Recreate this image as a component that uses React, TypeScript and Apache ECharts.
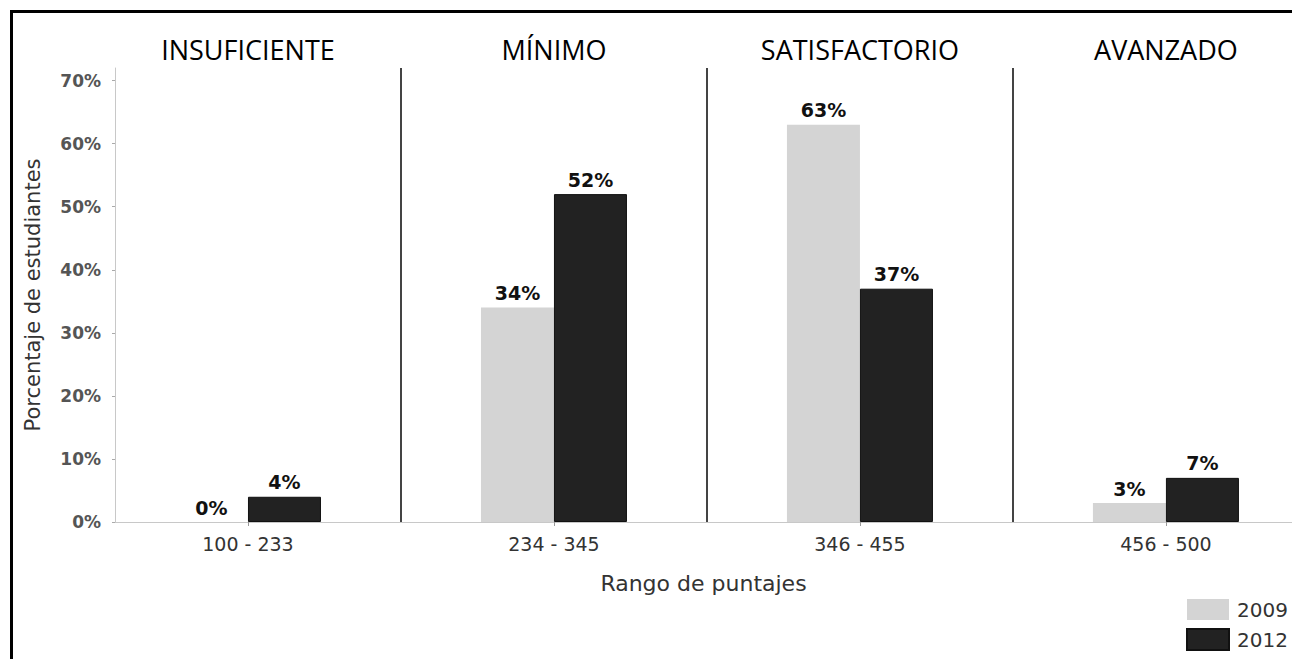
import React, { useEffect, useRef } from "react";
import * as echarts from "echarts";

const ranges = ["100 - 233", "234 - 345", "346 - 455", "456 - 500"];
const levels = ["INSUFICIENTE", "MÍNIMO", "SATISFACTORIO", "AVANZADO"];
const values2009 = [0, 34, 63, 3];
const values2012 = [4, 52, 37, 7];
const yTicks = [0, 10, 20, 30, 40, 50, 60, 70];
const seriesNames = ["2009", "2012"];

export default function App() {
  const ref = useRef<HTMLDivElement>(null);
  useEffect(() => {
    if (!ref.current) return;
    const chart = echarts.init(ref.current, null, { renderer: "svg" });
    const idx = ranges.map((_, i) => i);
    const separators = ranges.slice(1).map((_, i) => ({ xAxis: i + 0.5 }));
    const labelStyle = {
      show: true,
      position: "top",
      distance: 5,
      formatter: (p: any) => `${p.value[1]}%`,
      fontFamily: "DejaVu Sans",
      fontWeight: "bold",
      fontSize: 19,
      color: "#111",
    };
    const xMin = -0.4346;
    const xMax = 3.412;
    chart.setOption({
      animation: false,
      backgroundColor: "#fff",
      grid: { left: 115, right: 0, top: 68, bottom: 137, containLabel: false },
      legend: {
        orient: "vertical",
        left: 1186,
        top: 599,
        padding: 0,
        itemWidth: 42,
        itemHeight: 21,
        itemGap: 8,
        icon: "rect",
        textStyle: { fontFamily: "DejaVu Sans", fontSize: 20, color: "#333", padding: [0, 0, 0, 3] },
        data: seriesNames,
      },
      xAxis: [
        {
          type: "value",
          min: xMin,
          max: xMax,
          position: "bottom",
          splitLine: { show: false },
          axisLine: { show: true, onZero: false, lineStyle: { color: "#c8c8c8", width: 1 } },
          axisTick: { show: true, customValues: idx, length: 4, lineStyle: { color: "#999" } },
          axisLabel: {
            customValues: idx,
            formatter: (v: number) => ranges[Math.round(v)] ?? "",
            fontFamily: "DejaVu Sans",
            fontSize: 19,
            color: "#333",
            margin: 12,
          },
          name: "Rango de puntajes",
          nameLocation: "middle",
          nameGap: 50,
          nameTextStyle: { fontFamily: "DejaVu Sans", fontSize: 22, color: "#333" },
        },
        {
          type: "value",
          min: xMin,
          max: xMax,
          position: "top",
          splitLine: { show: false },
          axisLine: { show: false },
          axisTick: { show: false },
          axisLabel: {
            customValues: idx,
            formatter: (v: number) => levels[Math.round(v)] ?? "",
            fontFamily: "Open Sans",
            fontWeight: 500,
            fontSize: 27,
            color: "#000",
            margin: 5,
          },
        },
      ],
      yAxis: {
        type: "value",
        min: 0,
        max: 72,
        splitLine: { show: false },
        axisLine: { show: true, onZero: false, lineStyle: { color: "#c8c8c8", width: 1 } },
        axisTick: { show: true, customValues: yTicks, length: 3, lineStyle: { color: "#aaa" } },
        axisLabel: {
          customValues: yTicks,
          formatter: (v: number) => `${v}%`,
          fontFamily: "DejaVu Sans",
          fontWeight: "bold",
          fontSize: 17,
          color: "#555",
          margin: 14,
        },
        name: "Porcentaje de estudiantes",
        nameLocation: "middle",
        nameGap: 72,
        nameTextStyle: { fontFamily: "DejaVu Sans", fontSize: 21, color: "#333" },
      },
      graphic: [
        {
          type: "rect",
          shape: { x: 11.5, y: 11.5, width: 1400, height: 1000 },
          style: { fill: "none", stroke: "#000", lineWidth: 3 },
          silent: true,
          z: 100,
        },
      ],
      series: [
        {
          name: seriesNames[0],
          type: "bar",
          xAxisIndex: 0,
          barWidth: 73,
          barGap: "0%",
          itemStyle: { color: "#d4d4d4" },
          label: labelStyle,
          data: values2009.map((v, i) => [i, v]),
        },
        {
          name: seriesNames[1],
          type: "bar",
          xAxisIndex: 0,
          barWidth: 73,
          barGap: "0%",
          itemStyle: { color: "#222", borderColor: "#111", borderWidth: 1 },
          label: labelStyle,
          data: values2012.map((v, i) => [i, v]),
        },
        {
          name: "separators",
          type: "line",
          xAxisIndex: 0,
          data: [],
          markLine: {
            silent: true,
            symbol: "none",
            label: { show: false },
            lineStyle: { color: "#444", width: 2, type: "solid" },
            data: separators,
          },
        },
      ],
    });
    return () => chart.dispose();
  }, []);
  return (
    <div
      ref={ref}
      style={{ position: "fixed", left: 0, top: 0, width: 1292, height: 659 }}
    />
  );
}
